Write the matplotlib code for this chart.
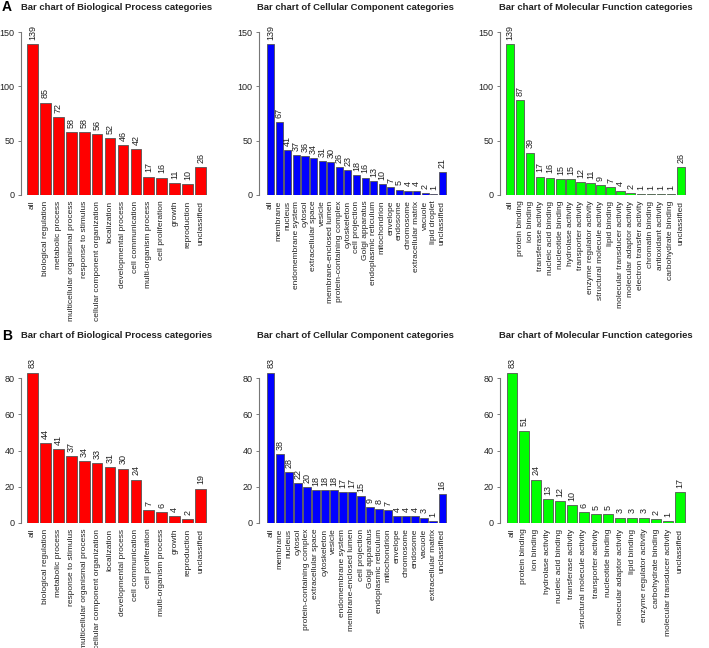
import matplotlib
matplotlib.use("Agg")
import matplotlib.pyplot as plt

plt.rcParams['font.family'] = ['Liberation Sans', 'DejaVu Sans']

# ---- data, panel A ----
a_bp_names = ["all", "biological regulation", "metabolic process", "multicellular organismal process",
              "response to stimulus", "cellular component organization", "localization",
              "developmental process", "cell communication", "multi-organism process",
              "cell proliferation", "growth", "reproduction", "unclassified"]
a_bp_values = [139, 85, 72, 58, 58, 56, 52, 46, 42, 17, 16, 11, 10, 26]

a_cc_names = ["all", "membrane", "nucleus", "endomembrane system", "cytosol", "extracellular space",
              "vesicle", "membrane-enclosed lumen", "protein-containing complex", "cytoskeleton",
              "cell projection", "Golgi apparatus", "endoplasmic reticulum", "mitochondrion",
              "envelope", "endosome", "chromosome", "extracellular matrix", "vacuole",
              "lipid droplet", "unclassified"]
a_cc_values = [139, 67, 41, 37, 36, 34, 31, 30, 26, 23, 18, 16, 13, 10, 7, 5, 4, 4, 2, 1, 21]

a_mf_names = ["all", "protein binding", "ion binding", "transferase activity", "nucleic acid binding",
              "nucleotide binding", "hydrolase activity", "transporter activity",
              "enzyme regulator activity", "structural molecule activity", "lipid binding",
              "molecular transducer activity", "molecular adaptor activity",
              "electron transfer activity", "chromatin binding", "antioxidant activity",
              "carbohydrate binding", "unclassified"]
a_mf_values = [139, 87, 39, 17, 16, 15, 15, 12, 11, 9, 7, 4, 2, 1, 1, 1, 1, 26]

# ---- data, panel B ----
b_bp_names = ["all", "biological regulation", "metabolic process", "response to stimulus",
              "multicellular organismal process", "cellular component organization", "localization",
              "developmental process", "cell communication", "cell proliferation",
              "multi-organism process", "growth", "reproduction", "unclassified"]
b_bp_values = [83, 44, 41, 37, 34, 33, 31, 30, 24, 7, 6, 4, 2, 19]

b_cc_names = ["all", "membrane", "nucleus", "cytosol", "protein-containing complex",
              "extracellular space", "cytoskeleton", "vesicle", "endomembrane system",
              "membrane-enclosed lumen", "cell projection", "Golgi apparatus",
              "endoplasmic reticulum", "mitochondrion", "envelope", "chromosome", "endosome",
              "vacuole", "extracellular matrix", "unclassified"]
b_cc_values = [83, 38, 28, 22, 20, 18, 18, 18, 17, 17, 15, 9, 8, 7, 4, 4, 4, 3, 1, 16]

b_mf_names = ["all", "protein binding", "ion binding", "hydrolase activity", "nucleic acid binding",
              "transferase activity", "structural molecule activity", "transporter activity",
              "nucleotide binding", "molecular adaptor activity", "lipid binding",
              "enzyme regulator activity", "carbohydrate binding",
              "molecular transducer activity", "unclassified"]
b_mf_values = [83, 51, 24, 13, 12, 10, 6, 5, 5, 3, 3, 3, 2, 1, 17]

a_ticks = [0, 50, 100, 150]
b_ticks = [0, 20, 40, 60, 80]

W, H = 709, 648
fig = plt.figure(figsize=(W / 100, H / 100), dpi=100)


def panel(x0, b0, b1, y0, ppu, ymax, names, values, color, ticks):
    # x0 = y-axis pixel, b0/b1 = first bar left / last bar right, y0 = pixel of zero
    n = len(values)
    w = 0.83
    unit = (b1 - b0) / (n - 1 + w)
    xl = -w / 2 - (b0 - x0) / unit
    xr = n - 1 + w / 2 + 3 / unit
    ax = fig.add_axes([x0 / W, (H - y0) / H, (b1 + 3 - x0) / W, ymax * ppu / H])
    bars = ax.bar(range(n), values, width=w, color=color, edgecolor='#555555', linewidth=0.6)
    ax.set_xlim(xl, xr)
    ax.set_ylim(0, ymax)
    for rect, v in zip(bars, values):
        ax.annotate(str(v), (rect.get_x() + rect.get_width() / 2, v), xytext=(0, 3),
                    textcoords='offset points', rotation=90, ha='center', va='bottom',
                    fontsize=6.5, color='#222222', annotation_clip=False)
    ax.set_xticks(range(n))
    ax.set_xticklabels(names, rotation=90, fontsize=6, color='#222222')
    ax.tick_params(axis='x', length=0, pad=4)
    ax.set_yticks(ticks)
    ax.tick_params(axis='y', length=2.5, width=0.6, color='#666666', labelsize=6.5,
                   labelcolor='#222222', pad=2)
    for s in ['top', 'right', 'bottom']:
        ax.spines[s].set_visible(False)
    ax.spines['left'].set_bounds(ticks[0], ticks[-1])
    ax.spines['left'].set_color('#777777')
    ax.spines['left'].set_linewidth(0.8)
    ax.patch.set_alpha(0)
    return ax


# row A
panel(21, 27, 206, 195, 163 / 150, 160, a_bp_names, a_bp_values, '#FF0000', a_ticks)
panel(259, 267, 446, 195, 163 / 150, 160, a_cc_names, a_cc_values, '#0000FF', a_ticks)
panel(500, 506, 685, 195, 163 / 150, 160, a_mf_names, a_mf_values, '#00FF00', a_ticks)
# row B
panel(21, 27, 206, 523, 145 / 80, 90, b_bp_names, b_bp_values, '#FF0000', b_ticks)
panel(259, 267, 446, 523, 145 / 80, 90, b_cc_names, b_cc_values, '#0000FF', b_ticks)
panel(500, 507, 685, 523, 145 / 80, 90, b_mf_names, b_mf_values, '#00FF00', b_ticks)

titles = ["Bar chart of Biological Process categories",
          "Bar chart of Cellular Component categories",
          "Bar chart of Molecular Function categories"]
for y in [7, 336]:
    for cx, t in zip([117, 355, 596], titles):
        fig.text(cx / W, 1 - y / H, t, ha='center', va='center', fontsize=6.8,
                 fontweight='bold', color='#222222')
fig.text(2 / W, 1 - 7 / H, "A", ha='left', va='center', fontsize=10, fontweight='bold')
fig.text(2 / W, 1 - 336 / H, "B", ha='left', va='center', fontsize=10, fontweight='bold')

fig.savefig("out.png", dpi=100)
